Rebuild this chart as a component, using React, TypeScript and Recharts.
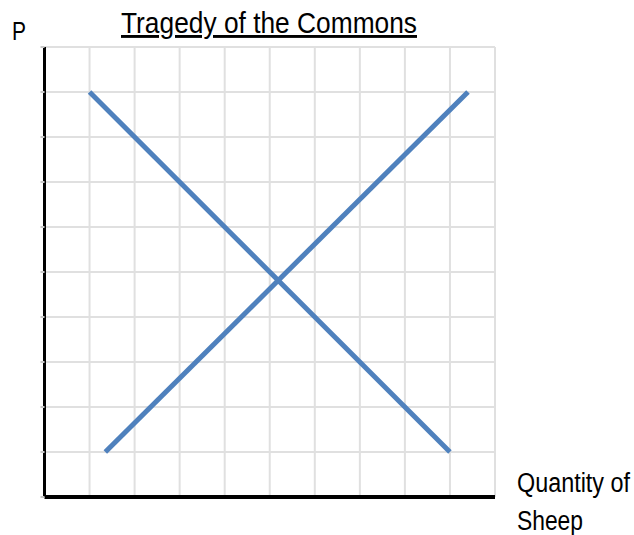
import { LineChart, Line, XAxis, YAxis, CartesianGrid } from 'recharts';

// grid / axis ticks (both axes run 0..10)
const gridTicks = [0, 1, 2, 3, 4, 5, 6, 7, 8, 9, 10];

// demand: downward-sloping
const demandQ = [1, 9];
const demandP = [9, 1];

// supply: upward-sloping
const supplyQ = [1.35, 9.4];
const supplyP = [1, 9];

const title = 'Tragedy of the Commons';
const yLabel = 'P';
const xLabel = ['Quantity of', 'Sheep'];

const demand = demandQ.map((q, i) => ({ q, p: demandP[i] }));
const supply = supplyQ.map((q, i) => ({ q, p: supplyP[i] }));

const lineColor = '#4f81bd';
// no Arial Narrow here, so Liberation Sans squeezed with textLength
const font = "'Liberation Sans', Arial, sans-serif";

export default function App() {
  return (
    <div style={{ position: 'absolute', left: 0, top: 0, width: 634, height: 535, background: '#fff' }}>
      <LineChart width={634} height={535} margin={{ top: 47, right: 139, left: 0, bottom: 0 }}>
        <CartesianGrid stroke="#e0e0e0" strokeWidth={2} />
        <XAxis
          type="number"
          dataKey="q"
          domain={[0, 10]}
          ticks={gridTicks}
          height={38}
          axisLine={{ stroke: '#000', strokeWidth: 4 }}
          tickLine={false}
          tickFormatter={() => ''}
          allowDataOverflow
        />
        <YAxis
          type="number"
          dataKey="p"
          domain={[0, 10]}
          ticks={gridTicks}
          width={44.5}
          axisLine={{ stroke: '#000', strokeWidth: 3 }}
          tickLine={{ stroke: '#c8c8c8', strokeWidth: 2 }}
          tickSize={4}
          tickFormatter={() => ''}
          allowDataOverflow
        />
        <Line
          data={demand}
          dataKey="p"
          stroke={lineColor}
          strokeWidth={5}
          dot={false}
          activeDot={false}
          isAnimationActive={false}
        />
        <Line
          data={supply}
          dataKey="p"
          stroke={lineColor}
          strokeWidth={5}
          dot={false}
          activeDot={false}
          isAnimationActive={false}
        />
      </LineChart>
      <svg
        width={634}
        height={535}
        style={{ position: 'absolute', left: 0, top: 0, pointerEvents: 'none' }}
      >
        <text
          x={121}
          y={33}
          fontFamily={font}
          fontSize={29}
          fill="#000"
          textDecoration="underline"
          textLength={296}
          lengthAdjust="spacingAndGlyphs"
        >
          {title}
        </text>
        <text x={12} y={40} fontFamily={font} fontSize={25} fill="#000" textLength={14} lengthAdjust="spacingAndGlyphs">
          {yLabel}
        </text>
        <text x={517} y={492} fontFamily={font} fontSize={27} fill="#000" textLength={113} lengthAdjust="spacingAndGlyphs">
          {xLabel[0]}
        </text>
        <text x={517} y={530} fontFamily={font} fontSize={27} fill="#000" textLength={66} lengthAdjust="spacingAndGlyphs">
          {xLabel[1]}
        </text>
      </svg>
    </div>
  );
}
